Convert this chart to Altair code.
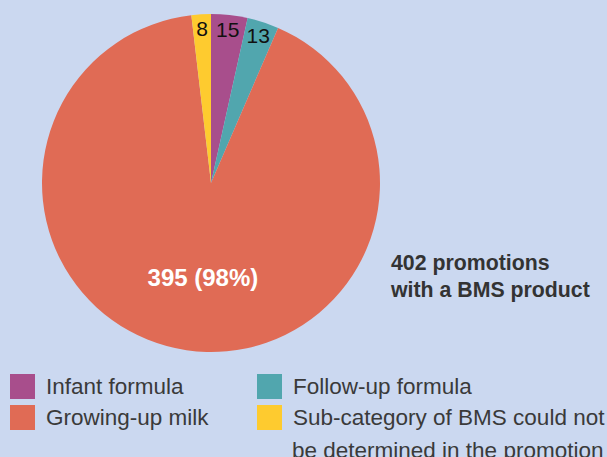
import altair as alt
import pandas as pd

categories = [
    "Infant formula",
    "Follow-up formula",
    "Growing-up milk",
    "Sub-category of BMS could not\nbe determined in the promotion",
]
counts = [15, 13, 395, 8]
slice_labels = ["15", "13", "", "8"]
main_labels = ["", "", "395 (98%)", ""]
colors = ["#a84e8c", "#51a6ae", "#e06b55", "#fecb2f"]
total_label = "402 promotions\nwith a BMS product"

df = pd.DataFrame({
    "category": categories,
    "count": counts,
    "slice_label": slice_labels,
    "main_label": main_labels,
    "order": list(range(len(categories))),
})

FONT = "Liberation Sans"
CX, CY, R = 211, 183, 169
LEG_FS = 22.5

base = alt.Chart(df).encode(
    theta=alt.Theta("count:Q", stack=True),
    order=alt.Order("order:Q"),
    x=alt.value(CX),
    y=alt.value(CY),
)

pie = base.mark_arc(outerRadius=R, stroke=None).encode(
    color=alt.Color(
        "category:N",
        sort=categories,
        scale=alt.Scale(domain=categories, range=colors),
        legend=alt.Legend(
            title=None,
            orient="none",
            legendX=10,
            legendY=374,
            direction="horizontal",
            columns=2,
            symbolType="square",
            symbolSize=625,
            symbolStrokeWidth=0,
            symbolOpacity=1,
            labelFont=FONT,
            labelFontSize=LEG_FS,
            labelColor="#3a3a3a",
            labelOffset=11,
            labelLimit=500,
            labelBaseline="middle",
            columnPadding=48,
            rowPadding=6,
            labelExpr="split(datum.label, '\\n')[0]",
            padding=0,
        ),
    )
)

# continuation line of the two-line legend label
legend_cont = alt.Chart(df).transform_filter(
    "indexof(datum.category, '\\n') >= 0"
).transform_calculate(
    line2="split(datum.category, '\\n')[1]"
).mark_text(
    font=FONT, fontSize=LEG_FS, color="#3a3a3a", align="left", baseline="alphabetic"
).encode(x=alt.value(292), y=alt.value(458), text="line2:N")

small = base.mark_text(radius=153, font=FONT, fontSize=21, color="#111111").encode(
    text="slice_label:N"
)

big = base.mark_text(radius=97, dx=6, font=FONT, fontSize=24, fontWeight="bold", color="white").encode(
    text="main_label:N"
)

total = alt.Chart(pd.DataFrame({"text": [total_label]})).mark_text(
    font=FONT, fontSize=21.3, fontWeight="bold", color="#333333",
    align="left", baseline="alphabetic", lineBreak="\n", lineHeight=26.5,
).encode(x=alt.value(391), y=alt.value(270), text="text:N")

chart = alt.layer(pie, small, big, total, legend_cont).properties(
    width=607, height=457, background="#cbd8f0", padding=0,
    autosize=alt.AutoSizeParams(type="none"),
).configure_view(stroke=None)

chart.save("out.html", embed_options={"renderer": "svg", "actions": False})
